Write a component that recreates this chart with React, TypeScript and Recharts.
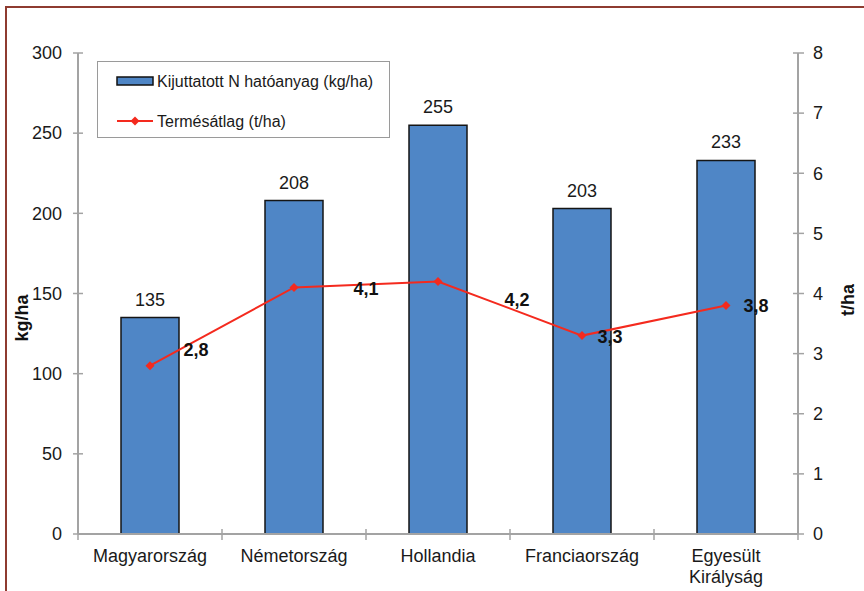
import React from 'react';
import {
  ComposedChart,
  Bar,
  Line,
  XAxis,
  YAxis,
  Legend,
  LabelList,
  Label,
} from 'recharts';

const countries = ['Magyarország', 'Németország', 'Hollandia', 'Franciaország', 'Egyesült Királyság'];
const nitrogen = [135, 208, 255, 203, 233];
const yieldAvg = [2.8, 4.1, 4.2, 3.3, 3.8];
const leftTicks = [0, 50, 100, 150, 200, 250, 300];
const rightTicks = [0, 1, 2, 3, 4, 5, 6, 7, 8];

const barName = 'Kijuttatott N hatóanyag (kg/ha)';
const lineName = 'Termésátlag (t/ha)';

const data = countries.map((c, i) => ({ country: c, n: nitrogen[i], y: yieldAvg[i] }));

const FONT = '"Liberation Sans", Arial, sans-serif';
const AXIS = '#a3a3a3';
const BLUE = '#4f86c6';
const RED = '#f42a1e';

// label nudges for the yield values (as placed in the original figure)
const lineLabelShift = [
  [46, -16],
  [72, 1],
  [79, 18],
  [28, 1],
  [30, 0],
];

const fmt = (v: number) => String(v).replace('.', ',');

const LeftTick = (props: any) => {
  const { x, y, payload } = props;
  return (
    <g>
      <line x1={x - 5} x2={x + 5} y1={y} y2={y} stroke={AXIS} strokeWidth={1.5} />
      <text x={x - 16} y={y} dy="0.35em" textAnchor="end" fontSize={18} fill="#1a1a1a" fontFamily={FONT}>
        {payload.value}
      </text>
    </g>
  );
};

const RightTick = (props: any) => {
  const { x, y, payload } = props;
  return (
    <g>
      <line x1={x - 5} x2={x + 6} y1={y} y2={y} stroke={AXIS} strokeWidth={1.5} />
      <text x={x + 15} y={y} dy="0.35em" textAnchor="start" fontSize={18} fill="#1a1a1a" fontFamily={FONT}>
        {payload.value}
      </text>
    </g>
  );
};

const CatTick = (props: any) => {
  const { x, y, payload, index, visibleTicksCount } = props;
  const half = payload.offset || 72;
  const lines = String(payload.value).split(' ');
  const last = index === (visibleTicksCount ?? countries.length) - 1;
  return (
    <g>
      <line x1={x - half} x2={x - half} y1={y - 5} y2={y + 6} stroke={AXIS} strokeWidth={1.5} />
      {last && <line x1={x + half} x2={x + half} y1={y - 5} y2={y + 6} stroke={AXIS} strokeWidth={1.5} />}
      {lines.map((l, i) => (
        <text key={l} x={x} y={y + 28 + i * 21} textAnchor="middle" fontSize={18} fill="#1a1a1a" fontFamily={FONT}>
          {l}
        </text>
      ))}
    </g>
  );
};

const Diamond = (props: any) => {
  const { cx, cy } = props;
  if (cx == null || cy == null) return null;
  return <path d={`M${cx},${cy - 4.5}L${cx + 4.5},${cy}L${cx},${cy + 4.5}L${cx - 4.5},${cy}Z`} fill={RED} />;
};

const YieldLabel = (props: any) => {
  const { x, y, value, index } = props;
  const [dx, dy] = lineLabelShift[index] || [0, 0];
  return (
    <text x={x + dx} y={y + dy} dy="0.35em" textAnchor="middle" fontSize={18} fontWeight="bold" fill="#111" fontFamily={FONT}>
      {fmt(value)}
    </text>
  );
};

const LegendBox = (props: any) => {
  const items = props.payload || [];
  const barItem = items.find((p: any) => p.dataKey === 'n');
  const lineItem = items.find((p: any) => p.dataKey === 'y');
  return (
    <div style={{ width: 293, height: 77, border: '1.5px solid #9a9a9a', boxSizing: 'border-box', background: '#fff' }}>
      <svg width={290} height={74}>
        <rect x={19} y={15} width={36} height={8} fill={BLUE} stroke="#111" strokeWidth={1.5} />
        <text x={59} y={19} dy="0.35em" fontSize={16} fill="#1a1a1a" fontFamily={FONT}>
          {barItem ? barItem.value : barName}
        </text>
        <line x1={19} x2={55} y1={59} y2={59} stroke={RED} strokeWidth={2} />
        <path d="M37,54.5L41.5,59L37,63.5L32.5,59Z" fill={RED} />
        <text x={59} y={59} dy="0.35em" fontSize={16} fill="#1a1a1a" fontFamily={FONT}>
          {lineItem ? lineItem.value : lineName}
        </text>
      </svg>
    </div>
  );
};

export default function App() {
  return (
    <div style={{ position: 'fixed', left: 0, top: 0, width: 864, height: 591, overflow: 'hidden', background: '#fff' }}>
      <div
        style={{
          position: 'absolute',
          left: 5,
          top: 6,
          width: 920,
          height: 700,
          border: '2px solid #8e3b30',
        }}
      />
      <div style={{ position: 'absolute', left: 0, top: 0 }}>
        <ComposedChart
          width={864}
          height={591}
          data={data}
          margin={{ top: 53, right: 16, bottom: 17, left: 20 }}
          style={{ fontFamily: FONT }}
        >
          <XAxis
            dataKey="country"
            xAxisId={0}
            height={40}
            interval={0}
            tickSize={0}
            tickMargin={0}
            tickLine={false}
            axisLine={{ stroke: AXIS, strokeWidth: 2 }}
            tick={<CatTick />}
          />
          <YAxis
            yAxisId="left"
            orientation="left"
            width={58}
            domain={[0, 300]}
            ticks={leftTicks}
            interval={0}
            tickSize={0}
            tickMargin={0}
            tickLine={false}
            axisLine={{ stroke: AXIS, strokeWidth: 2 }}
            tick={<LeftTick />}
          >
            <Label
              content={() => (
                <text transform="translate(22,318) rotate(-90)" dy="0.35em" textAnchor="middle" fontSize={18} fontWeight="bold" fill="#111" fontFamily={FONT}>
                  kg/ha
                </text>
              )}
            />
          </YAxis>
          <YAxis
            yAxisId="right"
            orientation="right"
            width={50}
            domain={[0, 8]}
            ticks={rightTicks}
            interval={0}
            tickSize={0}
            tickMargin={0}
            tickLine={false}
            axisLine={{ stroke: AXIS, strokeWidth: 2 }}
            tick={<RightTick />}
          >
            <Label
              content={() => (
                <text transform="translate(848,300) rotate(-90)" dy="0.35em" textAnchor="middle" fontSize={18} fontWeight="bold" fill="#111" fontFamily={FONT}>
                  t/ha
                </text>
              )}
            />
          </YAxis>
          <Legend
            layout="vertical"
            align="center"
            verticalAlign="middle"
            content={<LegendBox />}
            wrapperStyle={{ left: 97, top: 61, width: 293, height: 77 }}
          />
          <Bar
            yAxisId="left"
            dataKey="n"
            name={barName}
            barSize={58}
            fill={BLUE}
            stroke="#151515"
            strokeWidth={1.5}
            isAnimationActive={false}
          >
            <LabelList dataKey="n" position="top" offset={12} fontSize={18} fill="#1a1a1a" fontFamily={FONT} />
          </Bar>
          <Line
            yAxisId="right"
            dataKey="y"
            name={lineName}
            stroke={RED}
            strokeWidth={2}
            dot={<Diamond />}
            activeDot={false}
            isAnimationActive={false}
          >
            <LabelList dataKey="y" content={<YieldLabel />} />
          </Line>
        </ComposedChart>
      </div>
    </div>
  );
}
